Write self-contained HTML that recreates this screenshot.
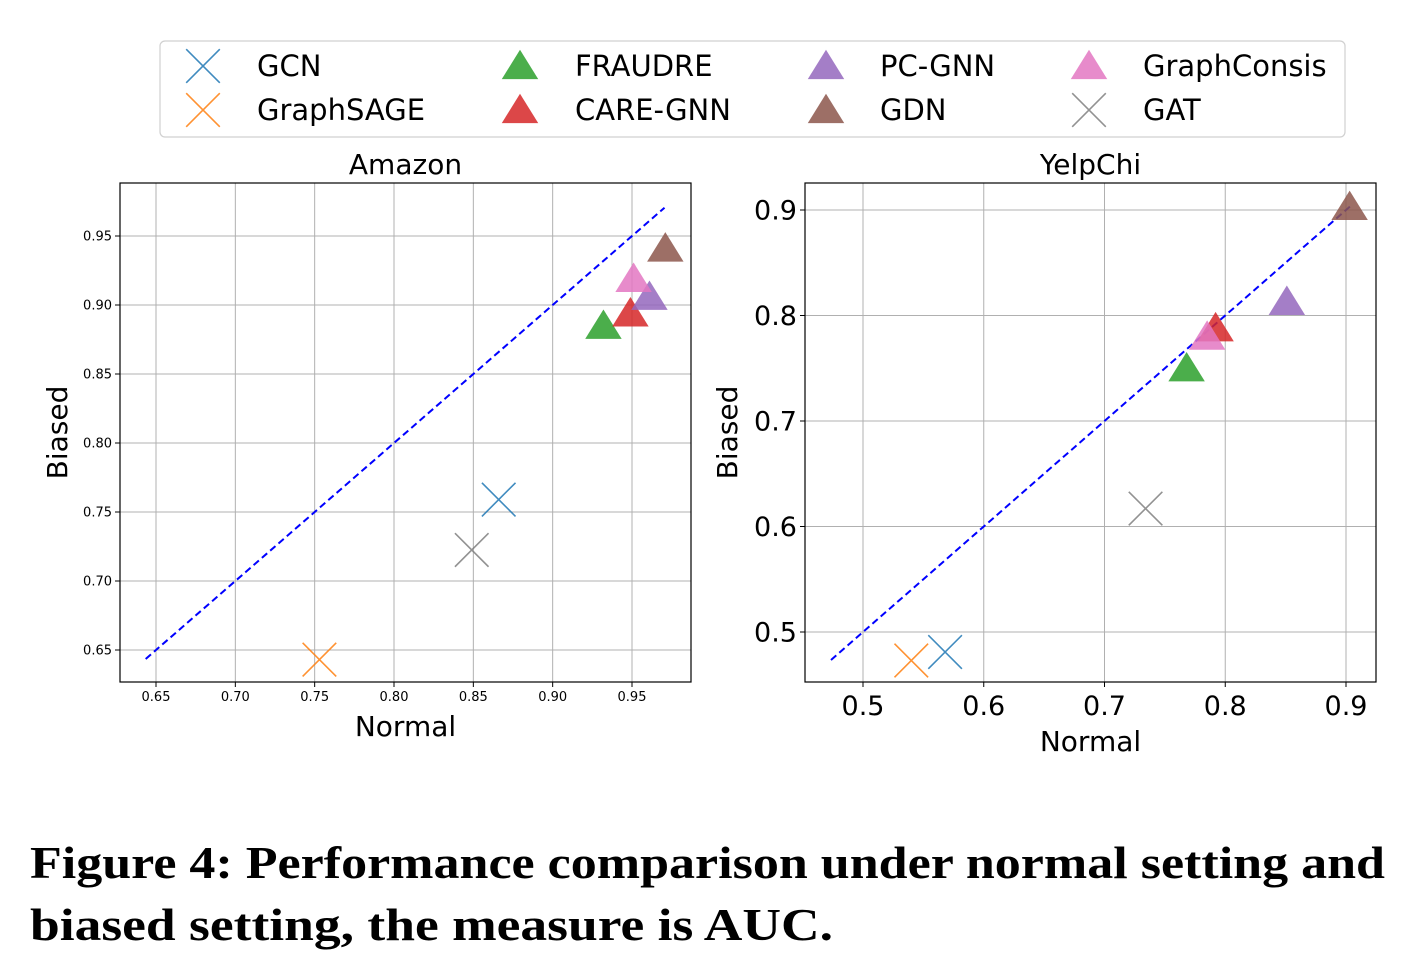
<!DOCTYPE html>
<html><head><meta charset="utf-8"><style>
html,body{margin:0;padding:0;background:#fff;width:1420px;height:976px;overflow:hidden}
svg text{font-family:"DejaVu Sans","Liberation Sans",sans-serif}
</style></head><body>
<svg id="fig" width="1420" height="976" viewBox="0 0 1420 976">
<g id="legend"></g>
<g id="left"></g>
<g id="right"></g>
<text x="30" y="878" font-size="46" font-weight="bold" textLength="1355" lengthAdjust="spacingAndGlyphs" style="font-family:'Liberation Serif',serif">Figure 4: Performance comparison under normal setting and</text>
<text x="30" y="940" font-size="46" font-weight="bold" textLength="803" lengthAdjust="spacingAndGlyphs" style="font-family:'Liberation Serif',serif">biased setting, the measure is AUC.</text>
</svg>
<script>
const models=["GCN","GraphSAGE","FRAUDRE","CARE-GNN","PC-GNN","GDN","GraphConsis","GAT"];
const colors=["#1f77b4","#ff7f0e","#2ca02c","#d62728","#9467bd","#8c564b","#e377c2","#7f7f7f"];
const markers=["x","x","^","^","^","^","^","x"];
const amazonNormal=[0.866,0.753,0.932,0.949,0.961,0.971,0.951,0.849];
const amazonBiased=[0.759,0.643,0.885,0.894,0.906,0.941,0.919,0.7225];
const yelpNormal=[0.568,0.540,0.768,0.792,0.851,0.903,0.785,0.734];
const yelpBiased=[0.481,0.473,0.750,0.788,0.813,0.903,0.780,0.617];
const amazonTicksX=[0.65,0.70,0.75,0.80,0.85,0.90,0.95];
const amazonTicksY=[0.65,0.70,0.75,0.80,0.85,0.90,0.95];
const yelpTicksX=[0.5,0.6,0.7,0.8,0.9];
const yelpTicksY=[0.5,0.6,0.7,0.8,0.9];
const amazonDiag=[0.6435,0.9705];
const yelpDiag=[0.4735,0.904];
const NS="http://www.w3.org/2000/svg";
function el(p,t,a){const e=document.createElementNS(NS,t);for(const k in a)e.setAttribute(k,a[k]);p.appendChild(e);return e;}
function marker(g,type,cx,cy,c,s){
 if(type==="x"){const r=s*0.6;
  return el(g,"path",{d:`M${cx-r},${cy-r}L${cx+r},${cy+r}M${cx-r},${cy+r}L${cx+r},${cy-r}`,stroke:c,"stroke-width":1.6,fill:"none",opacity:0.85});}
 const h=s*1.0,w=s*0.62;
 return el(g,"path",{d:`M${cx},${cy-h*0.58}L${cx+w*1.05},${cy+h*0.47}L${cx-w*1.05},${cy+h*0.47}Z`,fill:c,opacity:0.85});
}
function chart(g,o){
 const X=v=>o.x0+(v-o.xa)/(o.xb-o.xa)*(o.x1-o.x0);
 const Y=v=>o.y0-(v-o.ya)/(o.yb-o.ya)*(o.y0-o.y1);
 const L=o.left,T=o.top,R=o.right,B=o.bottom;
 o.tx.forEach(v=>{const gl=el(g,"line",{x1:X(v),x2:X(v),y1:T,y2:B,stroke:"#b0b0b0","stroke-width":1});
  
  
  el(g,"line",{x1:X(v),x2:X(v),y1:B,y2:B+5,stroke:"#000"});
  const t=el(g,"text",{x:X(v),y:B+o.fs+6,"font-size":o.fs,"text-anchor":"middle"});t.textContent=o.fmt(v);
  
  });
 o.ty.forEach(v=>{const gl=el(g,"line",{x1:L,x2:R,y1:Y(v),y2:Y(v),stroke:"#b0b0b0","stroke-width":1});
  
  
  el(g,"line",{x1:L-5,x2:L,y1:Y(v),y2:Y(v),stroke:"#000"});
  const t=el(g,"text",{x:L-8,y:Y(v)+o.fs*0.36,"font-size":o.fs,"text-anchor":"end"});t.textContent=o.fmt(v);
  
  });
 const ln=el(g,"line",{x1:X(o.diag[0]),y1:Y(o.diag[0]),x2:X(o.diag[1]),y2:Y(o.diag[1]),stroke:"#0000ff","stroke-width":2,"stroke-dasharray":"7,4"});
 
 
 o.nx.forEach((v,i)=>{const m=marker(g,markers[i],X(v),Y(o.ny[i]),colors[i],28);
  
  });
 const fr=el(g,"rect",{x:L,y:T,width:R-L,height:B-T,fill:"none",stroke:"#000","stroke-width":1.2});
 
 
 const tt=el(g,"text",{x:(L+R)/2,y:T-9,"font-size":28,"text-anchor":"middle"});tt.textContent=o.title;
 
 
 const xl=el(g,"text",{x:(L+R)/2,y:o.xly,"font-size":28,"text-anchor":"middle"});xl.textContent="Normal";
 
 
 const yl=el(g,"text",{x:0,y:0,"font-size":28,"text-anchor":"middle",transform:`translate(${o.ylx},${(T+B)/2}) rotate(-90)`});yl.textContent="Biased";
 
 
}
chart(document.getElementById("left"),{left:120,right:691,top:183,bottom:682,xa:0.65,xb:0.95,x0:156,x1:632,ya:0.65,yb:0.95,y0:650,y1:236,
 tx:amazonTicksX,ty:amazonTicksY,nx:amazonNormal,ny:amazonBiased,diag:amazonDiag,fs:13,fmt:v=>v.toFixed(2),title:"Amazon",xly:736,ylx:67});
chart(document.getElementById("right"),{left:805,right:1376,top:183,bottom:682,xa:0.5,xb:0.9,x0:863,x1:1346,ya:0.5,yb:0.9,y0:632,y1:210,
 tx:yelpTicksX,ty:yelpTicksY,nx:yelpNormal,ny:yelpBiased,diag:yelpDiag,fs:27,fmt:v=>v.toFixed(1),title:"YelpChi",xly:751,ylx:737});
const lg=document.getElementById("legend");
el(lg,"rect",{x:160,y:41,width:1185,height:96,rx:5,fill:"#fff",stroke:"#d0d0d0","stroke-width":1.2});
const legOrder=[0,1,2,3,4,5,6,7];
const legX=[203,520,826,1089],legY=[66,110],legText=[257,575,880,1143];
legOrder.forEach((i,k)=>{const c=Math.floor(k/2),r=k%2;
 const m=marker(lg,markers[i],legX[c],legY[r],colors[i],28);
 
 
 const t=el(lg,"text",{x:legText[c],y:legY[r]+10,"font-size":29});t.textContent=models[i];
 
 });
</script>
</body></html>
